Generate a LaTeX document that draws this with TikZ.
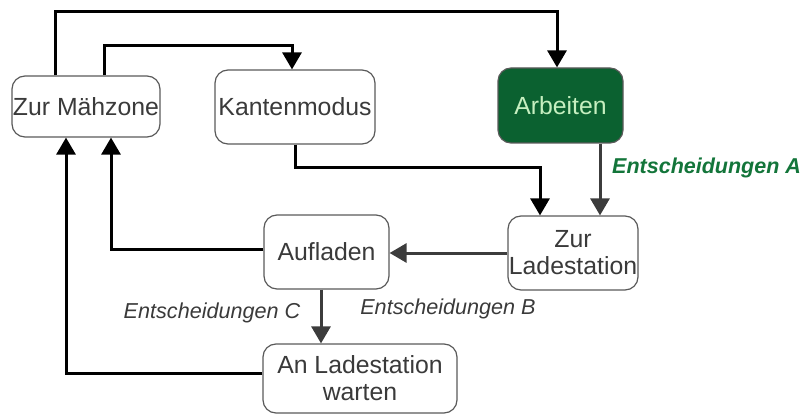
\documentclass[tikz,border=0pt]{standalone}
\usepackage{fontspec}
\setmainfont{Liberation Sans}
\usetikzlibrary{arrows.meta}
\definecolor{boxborder}{HTML}{5A5A5A}
\definecolor{boxtext}{HTML}{3A3A3A}
\definecolor{darkgreen}{HTML}{0B6130}
\definecolor{lightgreen}{HTML}{C6EFC0}
\definecolor{labgreen}{HTML}{13753A}
\definecolor{grayline}{HTML}{3C3C3C}
\tikzset{
  statebox/.style={draw=boxborder, line width=1.2pt, fill=white, rounded corners=13pt,
    text=boxtext, font=\fontsize{24.8}{27}\selectfont, align=center, inner sep=0pt},
  blackarrow/.style={line width=3pt, black, -{Triangle[width=19pt,length=17pt]}},
  grayarrow/.style={line width=3pt, grayline, -{Triangle[width=19pt,length=17pt]}},
  edgelabel/.style={font=\fontsize{21.6}{24}\selectfont\itshape, text=boxtext, inner sep=0pt}
}
\begin{document}
\begin{tikzpicture}[x=1pt,y=-1pt]
\useasboundingbox (0,0) rectangle (801,417);
\node[statebox, minimum width=148pt, minimum height=61pt] (mz) at (86,106.5) {Zur Mähzone};
\node[statebox, minimum width=160pt, minimum height=74pt] (km) at (295,107) {Kantenmodus};
\node[statebox, minimum width=125pt, minimum height=75pt, fill=darkgreen, draw=boxborder, text=lightgreen] (ar) at (560.5,105.5) {Arbeiten};
\node[statebox, minimum width=130pt, minimum height=74pt] (zl) at (573,253) {Zur\\Ladestation};
\node[statebox, minimum width=125pt, minimum height=74pt] (au) at (326.5,252) {Aufladen};
\node[statebox, minimum width=194pt, minimum height=69pt] (an) at (360,378.5) {An Ladestation\\warten};

\node[edgelabel, font=\fontsize{21.5}{24}\selectfont\bfseries\itshape, text=labgreen, anchor=west] (labA) at (612,168) {Entscheidungen A};
\node[edgelabel] (labB) at (448,309) {Entscheidungen B};
\node[edgelabel] (labC) at (212,313) {Entscheidungen C};

% arrows
\draw[blackarrow] ([xshift=-31pt]mz.north) -- ++(0,-64) -| ([xshift=-3.5pt]ar.north);
\draw[blackarrow] ([xshift=18pt]mz.north) -- ++(0,-30) -| ([xshift=-3pt]km.north);
\draw[blackarrow] (km.south) -- ++(0,23) -| ([xshift=-33pt]zl.north);
\draw[grayarrow] ([xshift=39.5pt]ar.south) -- ([xshift=39.5pt]ar.south |- zl.north);
\draw[grayarrow] (zl.west) -- (zl.west -| au.east);
\draw[blackarrow] ([yshift=3pt]au.west) -| ([xshift=25pt]mz.south);
\draw[blackarrow] ([yshift=5.5pt]an.west) -| ([xshift=-20pt]mz.south);
\draw[grayarrow] ([xshift=-5.5pt]au.south) -- ([xshift=-5.5pt]au.south |- an.north);
\end{tikzpicture}
\end{document}
